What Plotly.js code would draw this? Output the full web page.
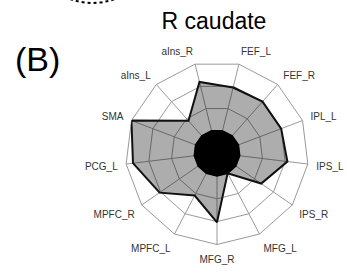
<!DOCTYPE html>
<html><head><meta charset="utf-8">
<script src="https://cdn.plot.ly/plotly-3.0.1.min.js"></script>
<style>html,body{margin:0;padding:0;background:#fff}#chart{width:347px;height:275px}</style>
</head><body><div id="chart"></div>
<script>
// Regions (clockwise from top, starting just right of north)
const regions = ['FEF_L','FEF_R','IPL_L','IPS_L','IPS_R','MFG_L','MFG_R','MPFC_L','MPFC_R','PCG_L','SMA','aIns_L','aIns_R'];
// Values for the R caudate profile (scale 0-4)
const caudateValues = [2.95, 3.0, 3.0, 3.1, 2.35, 1.0, 3.03, 2.1, 3.05, 3.7, 4.0, 1.88, 3.2];
// Inner black core level
const coreValues = [1,1,1,1,1,1,1,1,1,1,1,1,1];
const radialTicks = [1, 2, 3, 4];

const W = 347, H = 275;
const px = x => x / W, py = y => 1 - y / H;
const cx = 217, cy = 153, R = 91.5;

const close = a => a.concat([a[0]]);

const traces = [
  {
    type: 'scatterpolar', mode: 'lines',
    r: close(caudateValues), theta: close(regions),
    fill: 'toself', fillcolor: 'rgba(0,0,0,0.32)',
    line: {color: '#111', width: 2},
    hoverinfo: 'skip', showlegend: false
  },
  {
    type: 'scatterpolar', mode: 'lines',
    r: close(coreValues), theta: close(regions),
    fill: 'toself', fillcolor: '#000',
    line: {color: '#000', width: 1.5},
    hoverinfo: 'skip', showlegend: false
  }
];

const layout = {
  width: W, height: H,
  margin: {l: 0, r: 0, t: 0, b: 0},
  paper_bgcolor: '#fff',
  showlegend: false,
  title: {
    text: 'R caudate',
    font: {family: 'Liberation Sans, Arial, sans-serif', size: 23, color: '#000'},
    x: px(214), y: py(21), xanchor: 'center', yanchor: 'middle', xref: 'paper', yref: 'paper'
  },
  annotations: [{
    text: '(B)', showarrow: false, xref: 'paper', yref: 'paper',
    x: px(37), y: py(59), xanchor: 'center', yanchor: 'middle',
    font: {family: 'Liberation Sans, Arial, sans-serif', size: 34, color: '#000'}
  }],
  shapes: [{
    type: 'path', xref: 'paper', yref: 'paper',
    path: 'M ' + px(70) + ',' + py(-1) + ' Q ' + px(92) + ',' + py(7) + ' ' + px(115) + ',' + py(-1),
    line: {color: '#000', width: 2, dash: 'dot'}
  }],
  polar: {
    domain: {x: [px(cx - R), px(cx + R)], y: [py(cy + R), py(cy - R)]},
    bgcolor: '#fff',
    gridshape: 'linear',
    radialaxis: {
      range: [0, 4], tickvals: radialTicks, showticklabels: false, ticks: '',
      showline: false, gridcolor: '#9a9a9a', gridwidth: 1, layer: 'below traces'
    },
    angularaxis: {
      type: 'category', categoryarray: regions, direction: 'clockwise',
      rotation: 90 - 360 / 26,
      showline: true, linecolor: '#9a9a9a', linewidth: 1,
      gridcolor: '#9a9a9a', gridwidth: 1,
      ticks: 'outside', ticklen: 6, tickcolor: 'rgba(0,0,0,0)',
      tickfont: {family: 'Liberation Sans, Arial, sans-serif', size: 10, color: '#333'},
      layer: 'below traces'
    }
  }
};

Plotly.newPlot('chart', traces, layout, {staticPlot: true, displayModeBar: false});
</script>
</body></html>
